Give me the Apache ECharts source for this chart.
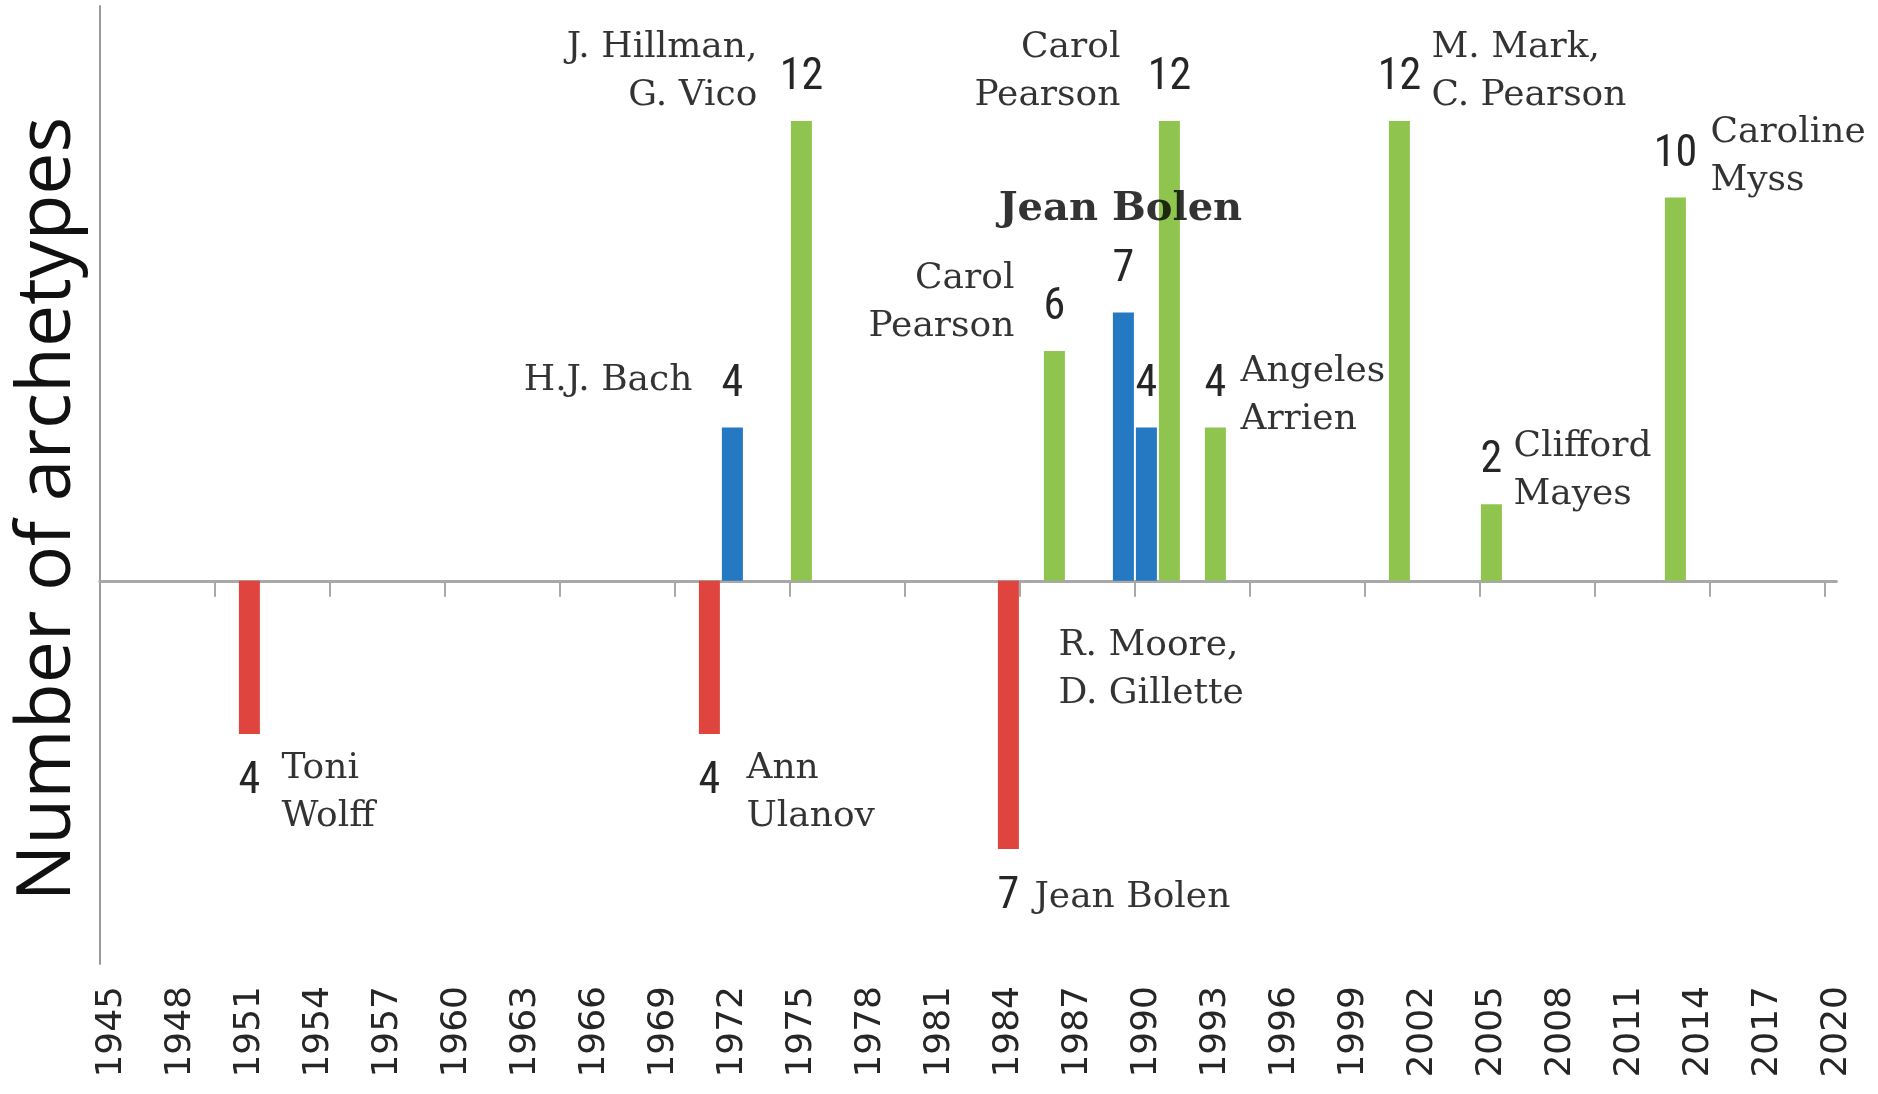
<!DOCTYPE html>
<html><head><meta charset="utf-8">
<script src="https://cdn.jsdelivr.net/npm/echarts@6/dist/echarts.min.js"></script>
<style>html,body{margin:0;padding:0;background:#fff}#c{width:1878px;height:1094px}</style>
</head><body><div id="c"></div>
<script>
// ---- data ----
const tickLabels = [1945,1948,1951,1954,1957,1960,1963,1966,1969,1972,1975,1978,1981,1984,1987,1990,1993,1996,1999,2002,2005,2008,2011,2014,2017,2020];
const zeroLineTicks = [1949.5,1954.5,1959.5,1964.5,1969.5,1974.5,1979.5,1984.5,1989.5,1994.5,1999.5,2004.5,2009.5,2014.5,2019.5];

const femaleYears = [1951, 1971, 1984];
const femaleValues = [-4, -4, -7];
const femaleAuthors = ['Toni\nWolff', 'Ann\nUlanov', 'Jean Bolen'];

const maleYears = [1972, 1989, 1990];
const maleValues = [4, 7, 4];
const maleAuthors = ['H.J. Bach', 'Jean Bolen', 'R. Moore,\nD. Gillette'];

const mixedYears = [1975, 1986, 1991, 1993, 2001, 2005, 2013];
const mixedValues = [12, 6, 12, 4, 12, 2, 10];
const mixedAuthors = ['J. Hillman,\nG. Vico', 'Carol\nPearson', 'Carol\nPearson', 'Angeles\nArrien', 'M. Mark,\nC. Pearson', 'Clifford\nMayes', 'Caroline\nMyss'];

const yAxisTitle = 'Number of archetypes';

// ---- layout of author labels (pixel offsets from bar end) ----
const authorLayout = {
  female: [ {align:'left', dx:32, dy:59}, {align:'left', dx:37, dy:59}, {align:'left', dx:26, dy:49} ],
  male:   [ {align:'right', dx:-40, dy:-47}, {align:'center', dx:-3, dy:-103, bold:true}, {align:'left', dx:-88, dy:242} ],
  mixed:  [ {align:'right', dx:-44, dy:-49}, {align:'right', dx:-40, dy:-48}, {align:'right', dx:-49, dy:-49},
            {align:'left', dx:25, dy:-32}, {align:'left', dx:32, dy:-49}, {align:'left', dx:22, dy:-34}, {align:'left', dx:35, dy:-41} ]
};

const RED = '#e0443f', BLUE = '#2479c2', GREEN = '#8fc54e';
const serif = "'DejaVu Serif', 'Liberation Serif', serif";
const numFont = "'Liberation Sans Narrow', 'Roboto Condensed', Roboto, sans-serif";

function pairs(xs, ys){ return xs.map((x,i)=>[x, ys[i]]); }
function authorItems(xs, ys, names, layout){
  return xs.map((x,i)=>{
    const l = layout[i];
    return {
      value:[x, ys[i]],
      label:{
        formatter: names[i], align:l.align, verticalAlign:'middle', offset:[l.dx, l.dy],
        fontFamily: serif, fontSize: l.bold ? 40 : 36, fontWeight: l.bold ? 'bold' : 'normal',
        lineHeight: 48, color:'#000', textBorderWidth:0
      }
    };
  });
}

const numLabel = {
  show:true, fontFamily:numFont, fontSize:44, color:'#262626', textBorderWidth:0
};

const chart = echarts.init(document.getElementById('c'));
chart.setOption({
  animation:false,
  backgroundColor:'#fff',
  grid:{left:99.9, right:41.6, top:6, bottom:130, containLabel:false},
  xAxis:[
    {type:'value', min:1944.5, max:2020, position:'bottom',
     axisLine:{show:false, onZero:false}, axisTick:{show:false}, splitLine:{show:false},
     axisLabel:{customValues:tickLabels, formatter:v=>String(v), rotate:90, margin:22, fontSize:36,
                fontFamily:"'DejaVu Sans', sans-serif", color:'#262626'}},
    {type:'value', min:1944.5, max:2020, position:'top',
     axisLine:{show:true, onZero:true, lineStyle:{color:'#a8a8a8', width:3}},
     axisTick:{show:true, inside:true, length:16, customValues:zeroLineTicks, lineStyle:{color:'#a8a8a8', width:2}},
     axisLabel:{show:false}, splitLine:{show:false}}
  ],
  yAxis:{type:'value', min:-10, max:15,
     axisLine:{show:true, onZero:false, lineStyle:{color:'#9a9a9a', width:2}},
     axisTick:{show:false}, axisLabel:{show:false}, splitLine:{show:false}},
  graphic:[{type:'text', x:49, y:509, rotation:Math.PI/2,
     style:{text:yAxisTitle, font:"75px 'Open Sans', sans-serif", fill:'#111', align:'center', verticalAlign:'middle'}}],
  series:[
    {type:'bar', name:'female', xAxisIndex:0, data:pairs(femaleYears, femaleValues), barWidth:21, barGap:'-100%',
     itemStyle:{color:RED}, label:Object.assign({}, numLabel, {position:'bottom', distance:26, formatter:p=>Math.abs(p.value[1])})},
    {type:'bar', name:'male', xAxisIndex:0, data:pairs(maleYears, maleValues), barWidth:21, barGap:'-100%',
     itemStyle:{color:BLUE}, label:Object.assign({}, numLabel, {position:'top', distance:21, formatter:p=>p.value[1]})},
    {type:'bar', name:'mixed', xAxisIndex:0, data:pairs(mixedYears, mixedValues), barWidth:21, barGap:'-100%',
     itemStyle:{color:GREEN}, label:Object.assign({}, numLabel, {position:'top', distance:21, formatter:p=>p.value[1]})},
    {type:'scatter', xAxisIndex:0, symbolSize:1, itemStyle:{color:'transparent'}, z:10, silent:true,
     label:{show:true, position:'inside'},
     data:[].concat(
       authorItems(femaleYears, femaleValues, femaleAuthors, authorLayout.female),
       authorItems(maleYears, maleValues, maleAuthors, authorLayout.male),
       authorItems(mixedYears, mixedValues, mixedAuthors, authorLayout.mixed))}
  ]
});
</script></body></html>
